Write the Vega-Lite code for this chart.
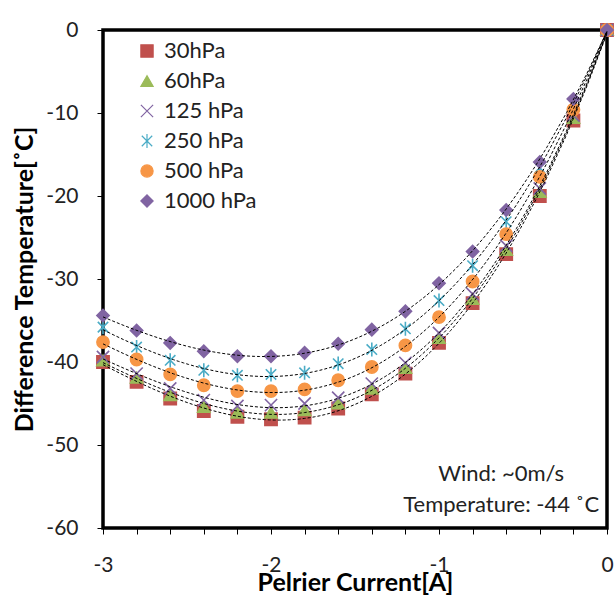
{
  "$schema": "https://vega.github.io/schema/vega-lite/v6.json",
  "width": 504,
  "height": 498,
  "autosize": "none",
  "padding": {"left": 103, "top": 30, "right": 9, "bottom": 78},
  "background": "white",
  "config": {
    "font": "Lato",
    "view": {"stroke": "black", "strokeWidth": 3.5},
    "legend": {
      "orient": "none",
      "legendX": 33,
      "legendY": 10,
      "padding": 0,
      "labelFontSize": 22,
      "labelColor": "#222",
      "labelFont": "Lato",
      "symbolSize": 150,
      "symbolStrokeWidth": 1.2,
      "rowPadding": 8,
      "labelOffset": 6
    }
  },
  "data": {
    "values": [
      {"p": "30hPa", "I": -3.0, "T": -40.0}, {"p": "30hPa", "I": -2.8, "T": -42.4}, {"p": "30hPa", "I": -2.6, "T": -44.4}, {"p": "30hPa", "I": -2.4, "T": -45.9},
      {"p": "30hPa", "I": -2.2, "T": -46.6}, {"p": "30hPa", "I": -2.0, "T": -46.9}, {"p": "30hPa", "I": -1.8, "T": -46.7}, {"p": "30hPa", "I": -1.6, "T": -45.6},
      {"p": "30hPa", "I": -1.4, "T": -43.9}, {"p": "30hPa", "I": -1.2, "T": -41.4}, {"p": "30hPa", "I": -1.0, "T": -37.7}, {"p": "30hPa", "I": -0.8, "T": -32.9},
      {"p": "30hPa", "I": -0.6, "T": -27.0}, {"p": "30hPa", "I": -0.4, "T": -20.0}, {"p": "30hPa", "I": -0.2, "T": -10.9}, {"p": "30hPa", "I": 0.0, "T": 0.0},

      {"p": "60hPa", "I": -3.0, "T": -39.8}, {"p": "60hPa", "I": -2.8, "T": -41.9}, {"p": "60hPa", "I": -2.6, "T": -44.0}, {"p": "60hPa", "I": -2.4, "T": -45.4},
      {"p": "60hPa", "I": -2.2, "T": -46.1}, {"p": "60hPa", "I": -2.0, "T": -46.1}, {"p": "60hPa", "I": -1.8, "T": -45.8}, {"p": "60hPa", "I": -1.6, "T": -45.0},
      {"p": "60hPa", "I": -1.4, "T": -43.2}, {"p": "60hPa", "I": -1.2, "T": -40.7}, {"p": "60hPa", "I": -1.0, "T": -37.1}, {"p": "60hPa", "I": -0.8, "T": -32.4},
      {"p": "60hPa", "I": -0.6, "T": -26.5}, {"p": "60hPa", "I": -0.4, "T": -19.5}, {"p": "60hPa", "I": -0.2, "T": -10.6}, {"p": "60hPa", "I": 0.0, "T": 0.0},

      {"p": "125 hPa", "I": -3.0, "T": -39.4}, {"p": "125 hPa", "I": -2.8, "T": -41.4}, {"p": "125 hPa", "I": -2.6, "T": -43.2}, {"p": "125 hPa", "I": -2.4, "T": -44.6},
      {"p": "125 hPa", "I": -2.2, "T": -45.3}, {"p": "125 hPa", "I": -2.0, "T": -45.2}, {"p": "125 hPa", "I": -1.8, "T": -45.0}, {"p": "125 hPa", "I": -1.6, "T": -44.3},
      {"p": "125 hPa", "I": -1.4, "T": -42.6}, {"p": "125 hPa", "I": -1.2, "T": -40.1}, {"p": "125 hPa", "I": -1.0, "T": -36.5}, {"p": "125 hPa", "I": -0.8, "T": -31.8},
      {"p": "125 hPa", "I": -0.6, "T": -26.0}, {"p": "125 hPa", "I": -0.4, "T": -19.1}, {"p": "125 hPa", "I": -0.2, "T": -10.3}, {"p": "125 hPa", "I": 0.0, "T": 0.0},

      {"p": "250 hPa", "I": -3.0, "T": -35.8}, {"p": "250 hPa", "I": -2.8, "T": -38.2}, {"p": "250 hPa", "I": -2.6, "T": -39.8}, {"p": "250 hPa", "I": -2.4, "T": -41.0},
      {"p": "250 hPa", "I": -2.2, "T": -41.6}, {"p": "250 hPa", "I": -2.0, "T": -41.5}, {"p": "250 hPa", "I": -1.8, "T": -41.3}, {"p": "250 hPa", "I": -1.6, "T": -40.2},
      {"p": "250 hPa", "I": -1.4, "T": -38.5}, {"p": "250 hPa", "I": -1.2, "T": -36.0}, {"p": "250 hPa", "I": -1.0, "T": -32.6}, {"p": "250 hPa", "I": -0.8, "T": -28.4},
      {"p": "250 hPa", "I": -0.6, "T": -23.1}, {"p": "250 hPa", "I": -0.4, "T": -16.6}, {"p": "250 hPa", "I": -0.2, "T": -8.8}, {"p": "250 hPa", "I": 0.0, "T": 0.0},

      {"p": "500 hPa", "I": -3.0, "T": -37.6}, {"p": "500 hPa", "I": -2.8, "T": -39.7}, {"p": "500 hPa", "I": -2.6, "T": -41.5}, {"p": "500 hPa", "I": -2.4, "T": -42.8},
      {"p": "500 hPa", "I": -2.2, "T": -43.5}, {"p": "500 hPa", "I": -2.0, "T": -43.5}, {"p": "500 hPa", "I": -1.8, "T": -43.3}, {"p": "500 hPa", "I": -1.6, "T": -42.2},
      {"p": "500 hPa", "I": -1.4, "T": -40.6}, {"p": "500 hPa", "I": -1.2, "T": -38.0}, {"p": "500 hPa", "I": -1.0, "T": -34.6}, {"p": "500 hPa", "I": -0.8, "T": -30.3},
      {"p": "500 hPa", "I": -0.6, "T": -24.6}, {"p": "500 hPa", "I": -0.4, "T": -17.7}, {"p": "500 hPa", "I": -0.2, "T": -9.6}, {"p": "500 hPa", "I": 0.0, "T": 0.0},

      {"p": "1000 hPa", "I": -3.0, "T": -34.4}, {"p": "1000 hPa", "I": -2.8, "T": -36.2}, {"p": "1000 hPa", "I": -2.6, "T": -37.7}, {"p": "1000 hPa", "I": -2.4, "T": -38.7},
      {"p": "1000 hPa", "I": -2.2, "T": -39.3}, {"p": "1000 hPa", "I": -2.0, "T": -39.3}, {"p": "1000 hPa", "I": -1.8, "T": -38.9}, {"p": "1000 hPa", "I": -1.6, "T": -37.8},
      {"p": "1000 hPa", "I": -1.4, "T": -36.1}, {"p": "1000 hPa", "I": -1.2, "T": -33.9}, {"p": "1000 hPa", "I": -1.0, "T": -30.5}, {"p": "1000 hPa", "I": -0.8, "T": -26.7},
      {"p": "1000 hPa", "I": -0.6, "T": -21.7}, {"p": "1000 hPa", "I": -0.4, "T": -15.9}, {"p": "1000 hPa", "I": -0.2, "T": -8.3}, {"p": "1000 hPa", "I": 0.0, "T": 0.0}
    ]
  },
  "encoding": {
    "x": {
      "field": "I",
      "type": "quantitative",
      "scale": {"domain": [-3, 0], "nice": false, "zero": false},
      "axis": {
        "values": [-3, -2.8, -2.6, -2.4, -2.2, -2, -1.8, -1.6, -1.4, -1.2, -1, -0.8, -0.6, -0.4, -0.2, 0],
        "labelExpr": "datum.value % 1 == 0 ? '' + datum.value : ''",
        "title": "Pelrier Current[A]",
        "grid": false,
        "domain": false,
        "ticks": true,
        "tickSize": 6,
        "tickColor": "#000",
        "tickWidth": 1,
        "labelFlush": false,
        "labelOverlap": false,
        "labelPadding": 20,
        "labelFontSize": 21,
        "labelFont": "Lato",
        "labelColor": "#222",
        "titleFont": "Lato",
        "titleFontSize": 25,
        "titleFontWeight": "bold",
        "titleColor": "#000",
        "titlePadding": -5
      }
    },
    "y": {
      "field": "T",
      "type": "quantitative",
      "scale": {"domain": [-60, 0], "nice": false, "zero": false},
      "axis": {
        "values": [-60, -50, -40, -30, -20, -10, 0],
        "labelExpr": "'' + datum.value",
        "title": "Difference Temperature[˚C]",
        "grid": false,
        "domain": false,
        "tickSize": 6,
        "tickColor": "#000",
        "tickWidth": 1,
        "labelFlush": false,
        "labelPadding": 19,
        "labelFontSize": 21,
        "labelFont": "Lato",
        "labelColor": "#222",
        "titleFont": "Lato",
        "titleFontSize": 25,
        "titleFontWeight": "bold",
        "titleColor": "#000",
        "titlePadding": 8
      }
    }
  },
  "layer": [
    {
      "mark": {"type": "point", "filled": true, "opacity": 1, "size": 150, "strokeWidth": 1.6},
      "encoding": {
        "shape": {
          "field": "p", "type": "nominal", "title": null,
          "scale": {
            "domain": ["30hPa", "60hPa", "125 hPa", "250 hPa", "500 hPa", "1000 hPa"],
            "range": ["square", "triangle-up", "M-1,-1L1,1M1,-1L-1,1", "M-0.85,-0.85L0.85,0.85M0.85,-0.85L-0.85,0.85M0,-1.15L0,1.15", "circle", "diamond"]
          }
        },
        "fill": {
          "field": "p", "type": "nominal", "title": null,
          "scale": {
            "domain": ["30hPa", "60hPa", "125 hPa", "250 hPa", "500 hPa", "1000 hPa"],
            "range": ["#C0504D", "#9BBB59", "#8064A2", "#4BACC6", "#F79646", "#8064A2"]
          }
        },
        "stroke": {
          "field": "p", "type": "nominal", "title": null,
          "scale": {
            "domain": ["30hPa", "60hPa", "125 hPa", "250 hPa", "500 hPa", "1000 hPa"],
            "range": ["#C0504D", "#9BBB59", "#8064A2", "#4BACC6", "#F79646", "#8064A2"]
          }
        }
      }
    },
    {
      "transform": [
        {"regression": "T", "on": "I", "groupby": ["p"], "method": "poly", "order": 3, "extent": [-3, 0]}
      ],
      "mark": {"type": "line", "color": "black", "strokeDash": [3, 2], "strokeWidth": 1},
      "encoding": {"detail": {"field": "p", "type": "nominal"}}
    },
    {
      "data": {"values": [{"x": -0.63, "y": -53.5, "label": "Wind: ~0m/s"}, {"x": -0.63, "y": -57.2, "label": "Temperature: -44 ˚C"}]},
      "mark": {"type": "text", "font": "Lato", "fontSize": 22, "color": "#222", "align": "center", "baseline": "middle"},
      "encoding": {
        "x": {"field": "x", "type": "quantitative"},
        "y": {"field": "y", "type": "quantitative"},
        "text": {"field": "label", "type": "nominal"}
      }
    }
  ]
}
